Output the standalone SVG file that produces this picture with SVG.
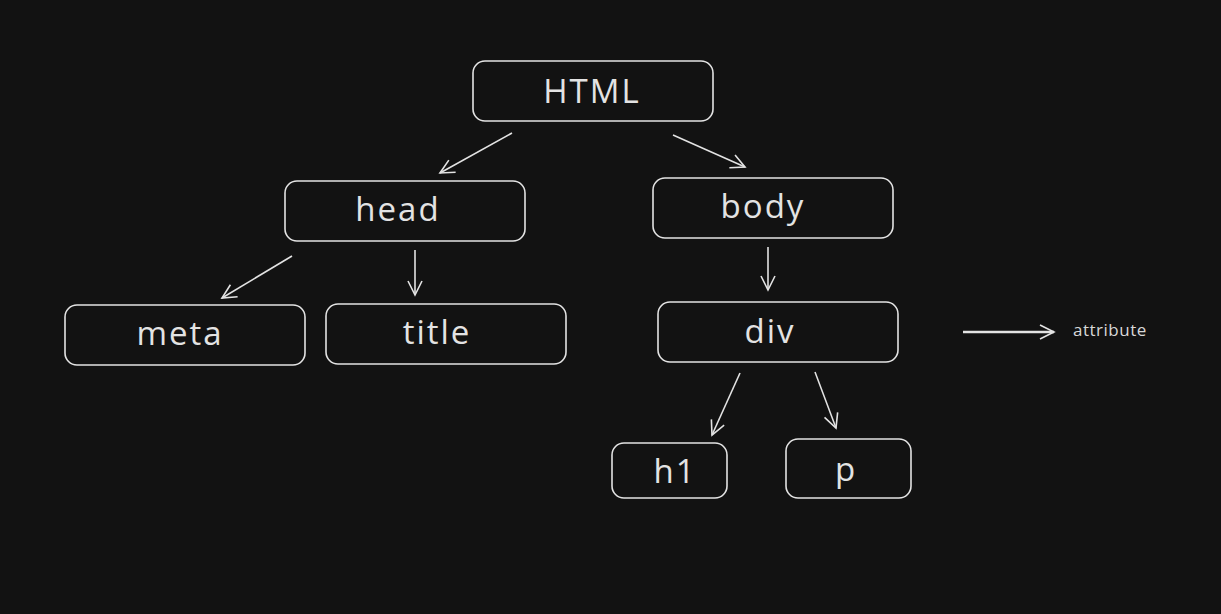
<svg xmlns="http://www.w3.org/2000/svg" width="1221" height="614" viewBox="0 0 1221 614">
<defs>
<style>
.n rect{fill:none;stroke:#e3e3e3;stroke-width:1.6}
.n text{fill:#e3e3e3;font-family:"Open Sans","DejaVu Sans",sans-serif;font-size:33px;letter-spacing:2px;text-anchor:middle;dominant-baseline:central}
.c line{stroke:#e3e3e3;stroke-width:1.6;fill:none}
.lbl{fill:#d8d8d8;font-family:"Open Sans","DejaVu Sans",sans-serif;font-size:17px;letter-spacing:0.5px}
</style>
<marker id="ah" viewBox="0 0 20 20" refX="18" refY="10" markerWidth="20" markerHeight="20" markerUnits="userSpaceOnUse" orient="auto">
<polyline points="4,3 18,10 4,17" fill="none" stroke="#e3e3e3" stroke-width="1.6"/>
</marker>
</defs>
<rect width="1221" height="614" fill="#121212"/>
<g class="c" id="connectors">
<line x1="512" y1="133" x2="440" y2="173" marker-end="url(#ah)"/>
<line x1="673" y1="135" x2="745" y2="167" marker-end="url(#ah)"/>
<line x1="292" y1="256" x2="222" y2="298" marker-end="url(#ah)"/>
<line x1="415" y1="250" x2="415" y2="295" marker-end="url(#ah)"/>
<line x1="768" y1="247" x2="768" y2="290" marker-end="url(#ah)"/>
<line x1="740" y1="373" x2="712" y2="435" marker-end="url(#ah)"/>
<line x1="815" y1="372" x2="836" y2="428" marker-end="url(#ah)"/>
<line x1="963" y1="332" x2="1054" y2="332" marker-end="url(#ah)" style="stroke-width:2.4"/>
</g>
<g class="n" id="html"><rect x="473" y="61" width="240" height="60" rx="12"/><text x="592" y="90">HTML</text></g>
<g class="n" id="head"><rect x="285" y="181" width="240" height="60" rx="12"/><text x="398" y="208">head</text></g>
<g class="n" id="body"><rect x="653" y="178" width="240" height="60" rx="12"/><text x="763" y="205">body</text></g>
<g class="n" id="meta"><rect x="65" y="305" width="240" height="60" rx="12"/><text x="180" y="332">meta</text></g>
<g class="n" id="title"><rect x="326" y="304" width="240" height="60" rx="12"/><text x="437" y="331">title</text></g>
<g class="n" id="div"><rect x="658" y="302" width="240" height="60" rx="12"/><text x="770" y="330">div</text></g>
<g class="n" id="h1"><rect x="612" y="443" width="115" height="55" rx="12"/><text x="675" y="470">h1</text></g>
<g class="n" id="p"><rect x="786" y="439" width="125" height="59" rx="12"/><text x="846" y="468">p</text></g>
<text class="lbl" x="1073" y="336">attribute</text>
</svg>
